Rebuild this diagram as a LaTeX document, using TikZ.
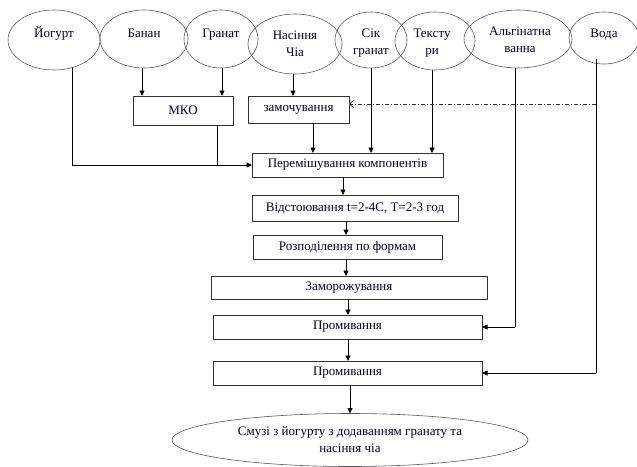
\documentclass[tikz,border=0pt]{standalone}
\usepackage{fontspec}
\setmainfont{Liberation Serif}
\usetikzlibrary{arrows.meta,shapes.geometric}
\begin{document}
\begin{tikzpicture}[x=1pt,y=-1pt,
  every node/.style={font=\fontsize{13}{17}\selectfont, text=black!85!blue},
  oval/.style={ellipse, draw=black!65, line width=0.6pt, inner sep=0pt, outer sep=0pt},
  word/.style={align=center, inner sep=0pt, anchor=base},
  stepbox/.style={rectangle, draw=black!80, line width=0.6pt, inner sep=0pt, outer sep=0pt},
  flow/.style={draw=black, line width=0.8pt},
  arr/.style={flow, -{Triangle[length=5.5pt,width=5pt]}},
  back/.style={draw=black!80, line width=0.8pt, dash pattern=on 4pt off 2pt on 1pt off 2pt,
    -{Straight Barb[length=4pt,width=7pt]}}
]
\useasboundingbox (0,0) rectangle (637,466);

% ingredient ovals
\node[oval, minimum width=92, minimum height=60] (yog) at (54,40) {};
\node[oval, minimum width=88, minimum height=58] (ban) at (144,39) {};
\node[oval, minimum width=74, minimum height=58] (gran) at (221,39) {};
\node[oval, minimum width=94, minimum height=60] (chia) at (295,44) {};
\node[oval, minimum width=72, minimum height=56] (sik) at (371,40) {};
\node[oval, minimum width=80, minimum height=58] (tex) at (435,41) {};
\node[oval, minimum width=108, minimum height=58] (alg) at (518,39) {};
\node[oval, minimum width=70, minimum height=52] (voda) at (604,38) {};

% oval captions (base = baseline of the last line)
\node[word] (yogt) at (54,37) {Йогурт};
\node[word] (bant) at (144,37) {Банан};
\node[word] (grant) at (221,37) {Гранат};
\node[word] (chiat) at (295,56) {Насіння\\Чіа};
\node[word] (sikt) at (371,54) {Сік\\гранат};
\node[word] (text) at (432,54) {Тексту\\ри};
\node[word] (algt) at (520,52) {Альгінатна\\ванна};
\node[word] (vodat) at (604,37) {Вода};

% process steps
\node[stepbox, minimum width=100, minimum height=29] (mko) at (183,110.5) {МКО};
\node[stepbox, minimum width=101, minimum height=27] (zam) at (298.5,109.5) {замочування};
\node[stepbox, minimum width=191, minimum height=24] (mix) at (347.5,165) {Перемішування компонентів};
\node[stepbox, minimum width=206, minimum height=26] (vid) at (355,208) {Відстоювання t=2-4C, T=2-3 год};
\node[stepbox, minimum width=189, minimum height=24] (roz) at (347.5,247) {Розподілення по формам};
\node[stepbox, minimum width=276, minimum height=23] (zamor) at (349,287.5) {Заморожування};
\node[stepbox, minimum width=269, minimum height=24] (prom1) at (347.5,327) {Промивання};
\node[stepbox, minimum width=269, minimum height=24] (prom2) at (347.5,373) {Промивання};
\node[oval, minimum width=356, minimum height=53, align=center] (fin) at (350,440)
  {Смузі з йогурту з додаванням гранату та\\насіння чіа};

% junction points
\coordinate (jy) at (72,165);
\coordinate (jm) at (217,165);
\coordinate (jalg) at (515,327);
\coordinate (jvoda) at (596,373);
\coordinate (jback) at (596,104);

% feeds from the ovals
\draw[flow] ([yshift=2.4pt]yog.south -| jy) -- (jy);
\draw[arr] (jy) -- (mix.west);
\draw[flow] (mko.south -| jm) -- (jm);
\draw[arr] (ban.south -| 142,0) -- (mko.north -| 142,0);
\draw[arr] (gran.south -| 222,0) -- (mko.north -| 222,0);
\draw[arr] (chia.south -| 293,0) -- (zam.north -| 293,0);
\draw[arr] (zam.south -| 313,0) -- (mix.north -| 313,0);
\draw[arr] (sik.south -| 371,0) -- (mix.north -| 371,0);
\draw[arr] (tex.south -| 432,0) -- (mix.north -| 432,0);
\draw[flow] (alg.south -| jalg) -- (jalg);
\draw[arr] (jalg) -- (prom1.east |- jalg);
\draw[flow] ([yshift=5pt]voda.south -| jvoda) -- (jvoda);
\draw[arr] (jvoda) -- (prom2.east |- jvoda);
\draw[back] (jback) -- (zam.east |- jback);

% main line
\draw[arr] (mix.south -| 343,0) -- (vid.north -| 343,0);
\draw[arr] (vid.south -| 346,0) -- (roz.north -| 346,0);
\draw[arr] (roz.south -| 346,0) -- (zamor.north -| 346,0);
\draw[arr] (zamor.south -| 348,0) -- (prom1.north -| 348,0);
\draw[arr] (prom1.south -| 348,0) -- (prom2.north -| 348,0);
\draw[arr] (prom2.south -| 350,0) -- (fin.north -| 350,0);
\end{tikzpicture}
\end{document}
